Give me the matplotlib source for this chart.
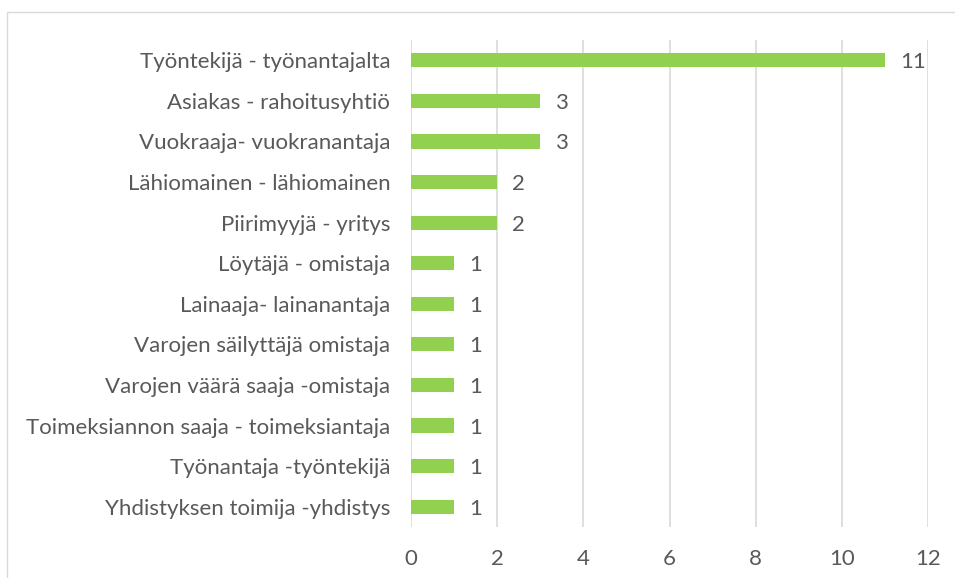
import matplotlib.pyplot as plt
from matplotlib.patches import Rectangle

categories = [
    "Työntekijä - työnantajalta",
    "Asiakas - rahoitusyhtiö",
    "Vuokraaja- vuokranantaja",
    "Lähiomainen - lähiomainen",
    "Piirimyyjä - yritys",
    "Löytäjä - omistaja",
    "Lainaaja- lainanantaja",
    "Varojen säilyttäjä omistaja",
    "Varojen väärä saaja -omistaja",
    "Toimeksiannon saaja - toimeksiantaja",
    "Työnantaja -työntekijä",
    "Yhdistyksen toimija -yhdistys",
]
counts = [11, 3, 3, 2, 2, 1, 1, 1, 1, 1, 1, 1]
xticks = [0, 2, 4, 6, 8, 10, 12]

plt.rcParams["font.family"] = ["Lato", "DejaVu Sans"]
txt = "#595959"
fs = 16

fig = plt.figure(figsize=(9.55, 5.78), dpi=100)
fig.patches.append(Rectangle((7 / 955, -0.1), 1.2, 1 - 12 / 578 + 0.1,
                             transform=fig.transFigure, fill=False,
                             edgecolor="#D9D9D9", lw=1))
ax = fig.add_axes([0.4304, 0.0882, 0.5413, 0.8426])

y = list(range(len(categories)))
ax.barh(y, counts, height=0.35, color="#92D050", zorder=3)
for yi, v in zip(y, counts):
    ax.text(v + 0.35, yi, str(v), va="center_baseline", ha="left", fontsize=fs, color=txt)

ax.set_xlim(0, 12)
ax.set_ylim(len(categories) - 0.5, -0.5)
ax.set_xticks(xticks)
ax.set_yticks(y)
ax.set_yticklabels(categories, va="center_baseline")
ax.tick_params(axis="both", length=0, labelsize=fs, colors=txt)
ax.tick_params(axis="x", pad=16)
ax.tick_params(axis="y", pad=15)
ax.grid(axis="x", color="#D9D9D9", lw=1.2, zorder=0)
for s in ax.spines.values():
    s.set_visible(False)

fig.savefig("out.png", dpi=100)
